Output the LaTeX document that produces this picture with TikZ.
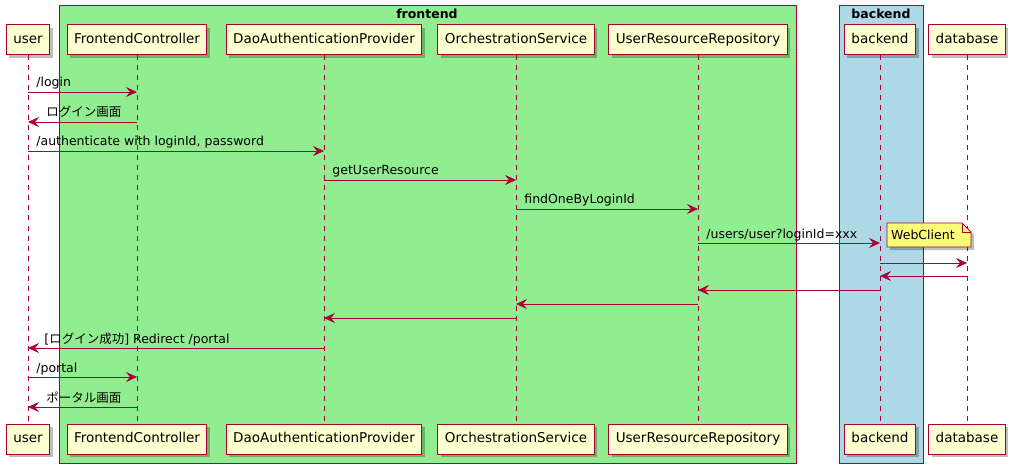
\documentclass[tikz,border=0pt]{standalone}
\usepackage{fontspec}
\setmainfont{DejaVu Sans}
\newfontfamily\jp{Noto Sans CJK JP}
\usepackage{tikz}
\usetikzlibrary{arrows.meta,shadows}
\definecolor{umlred}{HTML}{A80036}
\definecolor{umlbg}{HTML}{FEFECE}
\definecolor{notebg}{HTML}{FBFB77}
\definecolor{frontbg}{HTML}{90EE90}
\definecolor{backbg}{HTML}{ADD8E6}

\begin{document}
\begin{tikzpicture}[x=1pt,y=-1pt,
	part/.style={draw=umlred,fill=umlbg,line width=1pt,minimum height=30pt,inner xsep=7pt,
		text height=10pt,text depth=3pt,font=\fontsize{13.5}{16}\selectfont,
		drop shadow={shadow xshift=3pt,shadow yshift=-3pt,fill=black,opacity=0.25}},
	life/.style={umlred,line width=0.8pt,dash pattern=on 5pt off 5pt},
	msg/.style={umlred,line width=0.8pt,-{Stealth[length=11pt,width=10pt,inset=4pt]}},
	rlbl/.style={at start,anchor=base west,inner sep=0pt,xshift=8pt,yshift=5pt,text=black,font=\fontsize{12.5}{15}\selectfont},
	llbl/.style={at end,anchor=base west,inner sep=0pt,xshift=18pt,yshift=5pt,text=black,font=\fontsize{12.5}{15}\selectfont},
	boxtitle/.style={font=\bfseries\fontsize{12.5}{15}\selectfont}]
	\useasboundingbox (0,0) rectangle (1018,468);
	% boxes
	\fill[frontbg,draw=umlred,line width=1pt] (59,6) rectangle (796,463);
	\node[boxtitle] (frontend) at (427,14) {frontend};
	\fill[backbg,draw=umlred,line width=1pt] (839,6) rectangle (923,463);
	\node[boxtitle] (backendT) at (881,14) {backend};
	% participants
	\path	(28,40)  node[part] (user) {user}
		(137,40) node[part] (fc) {FrontendController}
		(324,40) node[part] (dao) {DaoAuthenticationProvider}
		(516,40) node[part] (orch) {OrchestrationService}
		(698,40) node[part] (urr) {UserResourceRepository}
		(880,40) node[part] (backend) {backend}
		(967,40) node[part] (db) {database};
	\path	(28,439)  node[part] (user2) {user}
		(137,439) node[part] (fc2) {FrontendController}
		(324,439) node[part] (dao2) {DaoAuthenticationProvider}
		(516,439) node[part] (orch2) {OrchestrationService}
		(698,439) node[part] (urr2) {UserResourceRepository}
		(880,439) node[part] (backend2) {backend}
		(967,439) node[part] (db2) {database};
	\foreach \p in {user,fc,dao,orch,urr,backend,db}
		\draw[life] (\p.south) -- (\p2.north);
	% messages
	\draw[msg] (user |- 0,92) -- node[rlbl] {/login} (fc |- 0,92);
	\draw[msg] (fc |- 0,122) -- node[llbl] {\jp ログイン画面} (user |- 0,122);
	\draw[msg] (user |- 0,151) -- node[rlbl] {/authenticate with loginId, password} (dao |- 0,151);
	\draw[msg] (dao |- 0,180) -- node[rlbl] {getUserResource} (orch |- 0,180);
	\draw[msg] (orch |- 0,209) -- node[rlbl] {findOneByLoginId} (urr |- 0,209);
	\draw[msg] (urr |- 0,243) -- node[rlbl] {/users/user?loginId=xxx} (backend |- 0,243);
	\draw[fill=notebg,draw=umlred,line width=0.8pt,drop shadow={shadow xshift=3pt,shadow yshift=-3pt,fill=black,opacity=0.25}]
		(887,223) -- (962,223) -- (971,232) -- (971,247) -- (887,247) -- cycle;
	\draw[umlred,line width=0.8pt] (962,223) -- (962,232) -- (971,232);
	\node[anchor=base west,inner sep=0pt,font=\fontsize{12.5}{15}\selectfont] (webclient) at (891,240) {WebClient};
	\draw[msg] (backend |- 0,263) -- (db |- 0,263);
	\draw[msg] (db |- 0,276) -- (backend |- 0,276);
	\draw[msg] (backend |- 0,290) -- (urr |- 0,290);
	\draw[msg] (urr |- 0,304) -- (orch |- 0,304);
	\draw[msg] (orch |- 0,318) -- (dao |- 0,318);
	\draw[msg] (dao |- 0,348) -- node[llbl,xshift=-2pt] {[{\jp ログイン成功}] Redirect /portal} (user |- 0,348);
	\draw[msg] (user |- 0,377) -- node[rlbl] {/portal} (fc |- 0,377);
	\draw[msg] (fc |- 0,407) -- node[llbl] {\jp ポータル画面} (user |- 0,407);
\end{tikzpicture}
\end{document}
